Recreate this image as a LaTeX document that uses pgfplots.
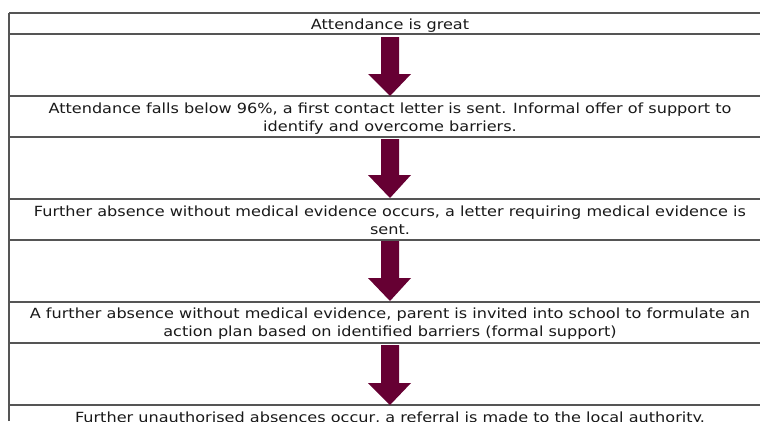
\documentclass[border=0pt]{standalone}
\usepackage{pgfplots}
\pgfplotsset{compat=1.18}
\usepackage{graphicx}
\usepackage{fontspec}
\setmainfont{DejaVu Sans}
\definecolor{arrowc}{RGB}{102,0,51}
\definecolor{linec}{RGB}{85,85,85}
\definecolor{textc}{RGB}{25,25,25}
\newcommand{\tx}[1]{\scalebox{1.15}[1]{#1}}
\begin{document}
\begin{tikzpicture}
\begin{axis}[scale only axis, width=760pt, height=421pt,
  xmin=0, xmax=760, ymin=0, ymax=421, y dir=reverse,
  hide axis, clip=false]
% table borders
\addplot[linec, line width=1.4pt] coordinates {(9,421) (9,13)};
\addplot[linec, line width=1.4pt] coordinates {(9,13) (760,13)};
\addplot[linec, line width=1.4pt] coordinates {(9,34) (760,34)};
\addplot[linec, line width=1.4pt] coordinates {(9,96) (760,96)};
\addplot[linec, line width=1.4pt] coordinates {(9,137) (760,137)};
\addplot[linec, line width=1.4pt] coordinates {(9,199) (760,199)};
\addplot[linec, line width=1.4pt] coordinates {(9,240) (760,240)};
\addplot[linec, line width=1.4pt] coordinates {(9,302) (760,302)};
\addplot[linec, line width=1.4pt] coordinates {(9,343) (760,343)};
\addplot[linec, line width=1.4pt] coordinates {(9,405) (760,405)};
% arrows
\addplot[draw=none, fill=arrowc] coordinates {(381,37) (399,37) (399,74) (411,74) (390,96) (368,74) (381,74) (381,37)};
\addplot[draw=none, fill=arrowc] coordinates {(381,139) (399,139) (399,175) (411,175) (390,198) (368,175) (381,175) (381,139)};
\addplot[draw=none, fill=arrowc] coordinates {(381,241) (399,241) (399,278) (411,278) (390,301) (368,278) (381,278) (381,241)};
\addplot[draw=none, fill=arrowc] coordinates {(381,345) (399,345) (399,383) (411,383) (390,405) (368,383) (381,383) (381,345)};
% texts
\tikzset{t/.style={anchor=base, inner sep=0pt, text=textc, font=\fontsize{14}{16}\selectfont}}
\node[t] at (axis cs:390,29) {\tx{Attendance is great}};
\node[t] at (axis cs:390,113) {\tx{Attendance falls below 96\%, a first contact letter is sent. Informal offer of support to}};
\node[t] at (axis cs:390,131) {\tx{identify and overcome barriers.}};
\node[t] at (axis cs:390,216) {\tx{Further absence without medical evidence occurs, a letter requiring medical evidence is}};
\node[t] at (axis cs:390,234) {\tx{sent.}};
\node[t] at (axis cs:390,318) {\tx{A further absence without medical evidence, parent is invited into school to formulate an}};
\node[t] at (axis cs:390,336) {\tx{action plan based on identified barriers (formal support)}};
\node[t, overlay] at (axis cs:390,422) {\tx{Further unauthorised absences occur, a referral is made to the local authority.}};
\end{axis}
\pgfresetboundingbox
\useasboundingbox (current axis.south west) rectangle (current axis.north east);
\end{tikzpicture}
\end{document}
